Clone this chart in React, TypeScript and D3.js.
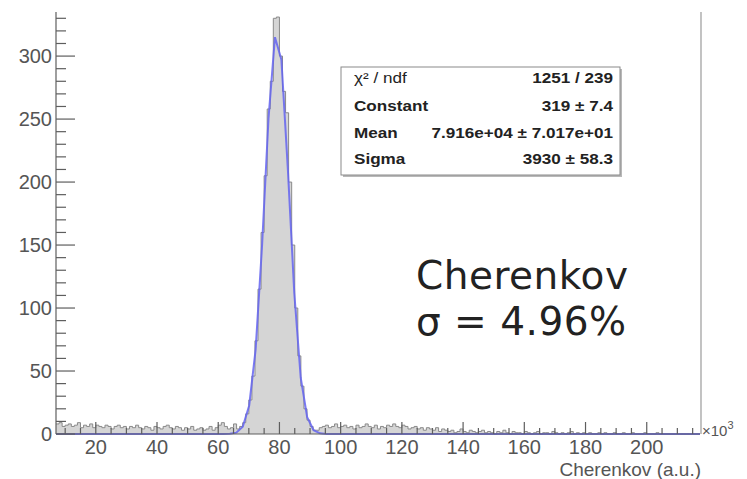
import React from "react";
import * as d3 from "d3";

// ---------- data ----------
const binStart = 7; // ×10^3
const binWidth = 1; // ×10^3
const countsLeft = [
  8, 9, 6, 7, 8, 6, 7, 9, 5, 7, 6, 8, 5, 7, 6, 5, 7, 6, 4, 6, 7, 5, 6, 4, 6, 5, 7, 5, 4, 6,
  5, 3, 6, 5, 4, 6, 7, 5, 4, 6, 5, 3, 5, 4, 6, 3, 4, 5, 3, 4, 6, 3, 5, 7, 9, 6, 4, 5, 8,
]; // bins 7..65
const countsPeak = [
  4, 6, 9, 16, 27, 46, 74, 115, 160, 205, 258, 280, 330, 331, 300, 272, 255, 200, 150, 100,
  62, 38, 20, 11, 6, 3,
]; // bins 66..91
const countsRight = [
  3, 5, 6, 7, 5, 6, 8, 5, 6, 7, 5, 6, 4, 7, 5, 6, 8, 6, 5, 7, 4, 6, 5, 7, 6, 8, 6, 5, 7, 6,
  4, 5, 6, 4, 5, 3, 5, 4, 3, 5, 2, 4, 3, 2,
]; // bins 92..135
const countsTail = [
  3, 1, 2, 4, 2, 1, 3, 2, 1, 2, 3, 1, 2, 1, 0, 2, 1, 3, 1, 0, 2, 1, 1, 0, 2, 1, 0, 1, 2, 0,
  1, 1, 0, 2, 1, 0, 1, 0, 1, 2, 0, 1, 0, 1, 0, 1, 0, 0, 1, 0, 1, 0, 0, 1, 0, 0, 1, 0, 0, 1,
  0, 0, 0, 1, 0, 0, 0, 1, 0, 0, 0, 0, 0, 0, 0, 0, 0, 0, 0, 0, 0, 0,
]; // bins 136..217

// Gaussian fit parameters (from the stats box)
const fitParams = [319, 79.16, 3.93]; // constant, mean (×10^3), sigma (×10^3)
const fitPoints = 100;

const xTicksMajor = [20, 40, 60, 80, 100, 120, 140, 160, 180, 200];
const yTicksMajor = [0, 50, 100, 150, 200, 250, 300];

const statLabels = ["χ² / ndf", "Constant", "Mean", "Sigma"];
const statValues = ["1251 / 239", "319 ± 7.4", "7.916e+04 ± 7.017e+01", "3930 ± 58.3"];

const noteLines = ["Cherenkov", "σ = 4.96%"];
const xAxisTitle = "Cherenkov (a.u.)";

// ---------- layout ----------
const W = 747;
const H = 479;
const L = 56, R = 700, T = 12, B = 434;
const xDomain = [7, 217.4];
const yDomain = [0, 335];

export default function App() {
  const counts = [...countsLeft, ...countsPeak, ...countsRight, ...countsTail];
  const x = d3.scaleLinear().domain(xDomain).range([L, R]);
  const y = d3.scaleLinear().domain(yDomain).range([B, T]);

  const pts: [number, number][] = counts.map((c, i) => [binStart + i * binWidth, c]);
  pts.push([binStart + counts.length * binWidth, counts[counts.length - 1]]);

  const area = d3
    .area<[number, number]>()
    .x((d) => x(d[0]))
    .y0(y(0))
    .y1((d) => y(d[1]))
    .curve(d3.curveStepAfter);
  const line = d3
    .line<[number, number]>()
    .x((d) => x(d[0]))
    .y((d) => y(d[1]))
    .curve(d3.curveStepAfter);

  const [cst, mu, sg] = fitParams;
  const step = (xDomain[1] - xDomain[0]) / fitPoints;
  const fit: [number, number][] = d3.range(fitPoints + 1).map((k) => {
    const xv = xDomain[0] + k * step;
    return [xv, cst * Math.exp(-0.5 * ((xv - mu) / sg) ** 2)];
  });
  const fitLine = d3
    .line<[number, number]>()
    .x((d) => x(d[0]))
    .y((d) => y(d[1]));

  const xMinor = d3.range(10, 217, 5).filter((v) => v % 20 !== 0);
  const yMinor = d3.range(10, 335, 10).filter((v) => v % 50 !== 0);

  const axisColor = "#5e5e5e";
  const labelColor = "#555";

  // stats box
  const sx0 = 341, sy0 = 67, sx1 = 620, sy1 = 175;
  const rowY = [83, 111, 138, 164];
  const stretch = 1.24;

  return (
    <svg
      width={W}
      height={H}
      style={{ position: "absolute", left: 0, top: 0, background: "#fff" }}
      fontFamily="'Liberation Sans', Arial, sans-serif"
    >
      <defs>
        <clipPath id="plotclip">
          <rect x={L} y={T} width={R - L} height={B - T + 1} />
        </clipPath>
      </defs>

      {/* histogram */}
      <g clipPath="url(#plotclip)">
        <path d={area(pts) || ""} fill="#d5d5d5" />
        <path d={line(pts) || ""} fill="none" stroke="#8a8a8a" strokeWidth={1} />
        <path
          d={fitLine(fit) || ""}
          fill="none"
          stroke="#6464f0"
          strokeOpacity={0.85}
          strokeWidth={2}
        />
      </g>

      {/* frame right */}
      <line x1={R + 1} x2={R + 1} y1={T} y2={B} stroke="#9a9a9a" strokeWidth={1.2} />

      {/* y axis */}
      <line x1={L} x2={L} y1={T} y2={B} stroke={axisColor} strokeWidth={1.2} />
      {yTicksMajor.map((v) => (
        <g key={"ym" + v}>
          <line x1={L} x2={L + 19} y1={y(v)} y2={y(v)} stroke={axisColor} strokeWidth={1.2} />
          <text
            x={L - 4}
            y={y(v)}
            dy="0.36em"
            textAnchor="end"
            fontSize={20}
            fill={labelColor}
          >
            {v}
          </text>
        </g>
      ))}
      {yMinor.map((v) => (
        <line key={"yn" + v} x1={L} x2={L + 10} y1={y(v)} y2={y(v)} stroke={axisColor} strokeWidth={1.2} />
      ))}

      {/* x axis */}
      <line x1={L} x2={R} y1={B} y2={B} stroke={axisColor} strokeWidth={1.2} />
      {xTicksMajor.map((v) => (
        <g key={"xm" + v}>
          <line x1={x(v)} x2={x(v)} y1={B} y2={B - 12} stroke={axisColor} strokeWidth={1.2} />
          <text x={x(v)} y={454} textAnchor="middle" fontSize={20} fill={labelColor}>
            {v}
          </text>
        </g>
      ))}
      {xMinor.map((v) => (
        <line key={"xn" + v} x1={x(v)} x2={x(v)} y1={B} y2={B - 6} stroke={axisColor} strokeWidth={1.2} />
      ))}
      <text x={702} y={436} fontSize={15} fill={labelColor}>
        ×10
        <tspan fontSize={11} dy={-7}>
          3
        </tspan>
      </text>
      <text x={R + 1} y={476} textAnchor="end" fontSize={19} fill={labelColor}>
        {xAxisTitle}
      </text>

      {/* stats box */}
      <rect x={sx0 + 2} y={sy0 + 2} width={sx1 - sx0} height={sy1 - sy0} fill="#b8b8b8" />
      <rect x={sx0} y={sy0} width={sx1 - sx0} height={sy1 - sy0} fill="#fff" stroke="#8a8a8a" strokeWidth={1} />
      {statLabels.map((s, i) => (
        <g key={"st" + i} transform={`translate(0,${rowY[i]}) scale(${stretch},1)`}>
          <text
            x={354 / stretch}
            y={0}
            fontSize={13.8}
            fontWeight={i === 0 ? 400 : 700}
            fill="#222"
          >
            {s}
          </text>
          <text x={613 / stretch} y={0} textAnchor="end" fontSize={13.8} fontWeight={700} fill="#222">
            {statValues[i]}
          </text>
        </g>
      ))}

      {/* annotation */}
      {noteLines.map((s, i) => (
        <text
          key={"n" + i}
          x={416}
          y={289 + i * 46}
          fontSize={39}
          fontFamily="'DejaVu Sans', Verdana, sans-serif"
          letterSpacing={0.5}
          fill="#222"
        >
          {s}
        </text>
      ))}
    </svg>
  );
}
